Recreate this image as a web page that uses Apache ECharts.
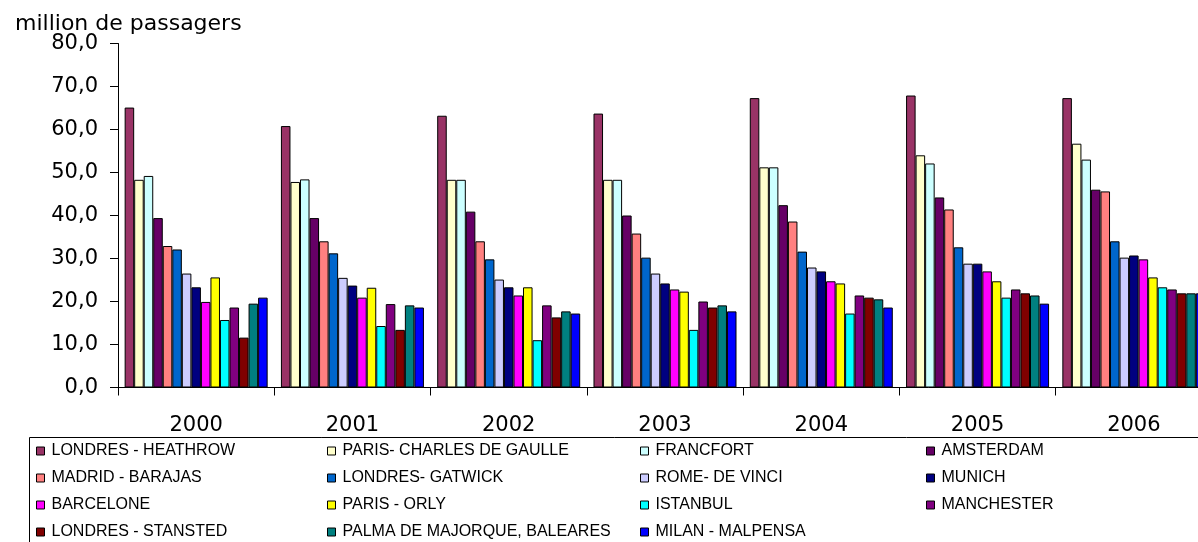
<!DOCTYPE html>
<html>
<head>
<meta charset="utf-8">
<script src="https://cdn.jsdelivr.net/npm/echarts@6/dist/echarts.min.js"></script>
<style>html,body{margin:0;padding:0;background:#fff;}#c{width:1198px;height:542px;}</style>
</head>
<body>
<div id="c"></div>
<script>
var years = ['2000','2001','2002','2003','2004','2005','2006'];
var yTicks = [0,10,20,30,40,50,60,70,80];
var airports = ['LONDRES - HEATHROW','PARIS- CHARLES DE GAULLE','FRANCFORT','AMSTERDAM',
  'MADRID - BARAJAS','LONDRES- GATWICK','ROME- DE VINCI','MUNICH',
  'BARCELONE','PARIS - ORLY','ISTANBUL','MANCHESTER',
  'LONDRES - STANSTED','PALMA DE MAJORQUE, BALEARES','MILAN - MALPENSA'];
var colors = ['#993366','#FFFFCC','#CCFFFF','#660066','#FF8080','#0066CC','#CCCCFF','#000080',
  '#FF00FF','#FFFF00','#00FFFF','#800080','#800000','#008080','#0000FF'];

var heathrow  = [65.1, 60.8, 63.2, 63.7, 67.3, 67.9, 67.3];
var cdg       = [48.3, 47.8, 48.3, 48.3, 51.2, 54.0, 56.7];
var francfort = [49.2, 48.4, 48.3, 48.3, 51.2, 52.1, 53.0];
var amsterdam = [39.4, 39.4, 40.9, 40.0, 42.4, 44.2, 46.0];
var madrid    = [32.9, 34.0, 34.0, 35.8, 38.6, 41.4, 45.6];
var gatwick   = [32.1, 31.2, 29.8, 30.2, 31.6, 32.6, 34.0];
var rome      = [26.5, 25.5, 25.1, 26.5, 27.9, 28.8, 30.2];
var munich    = [23.3, 23.7, 23.3, 24.2, 27.0, 28.8, 30.7];
var barcelone = [19.9, 20.9, 21.4, 22.8, 24.7, 27.0, 29.8];
var orly      = [25.6, 23.2, 23.3, 22.3, 24.2, 24.7, 25.6];
var istanbul  = [15.7, 14.3, 11.0, 13.4, 17.2, 20.9, 23.3];
var manchester= [18.6, 19.4, 19.1, 20.0, 21.4, 22.8, 22.8];
var stansted  = [11.6, 13.4, 16.3, 18.6, 20.9, 21.9, 21.9];
var palma     = [19.5, 19.1, 17.7, 19.1, 20.5, 21.4, 21.9];
var malpensa  = [20.9, 18.6, 17.2, 17.7, 18.6, 19.5, 21.9];

var values = [heathrow, cdg, francfort, amsterdam, madrid, gatwick, rome, munich,
  barcelone, orly, istanbul, manchester, stansted, palma, malpensa];

var BIG = 'DejaVu Sans, sans-serif';
var SMALL = 'Liberation Sans, Arial, sans-serif';

var series = airports.map(function(name, i){
  return {
    name: name, type: 'bar', data: values[i],
    barGap: '0%', barCategoryGap: '8.5%',
    itemStyle: {color: colors[i], borderColor: '#000', borderWidth: 1},
    emphasis: {disabled: true}
  };
});

var legendCols = [[0,4,8,12],[1,5,9,13],[2,6,10,14],[3,7,11]];
var legendLeft = [36, 327, 640, 926];
var legends = legendCols.map(function(col, k){
  return {
    orient: 'vertical', left: legendLeft[k], top: 443,
    data: col.map(function(i){ return airports[i]; }),
    icon: 'rect', itemWidth: 8, itemHeight: 8, itemGap: 11,
    itemStyle: {borderColor: '#000', borderWidth: 1},
    selectedMode: false,
    textStyle: {color: '#000', fontSize: 16, lineHeight: 16, fontFamily: SMALL, padding: [0,0,0,2]},
    padding: 0
  };
});

var chart = echarts.init(document.getElementById('c'), null, {renderer: 'canvas'});
chart.setOption({
  animation: false,
  backgroundColor: '#fff',
  color: colors,
  textStyle: {fontFamily: SMALL},
  title: {text: 'million de passagers', left: 10, top: 8,
    textStyle: {fontSize: 22, fontWeight: 'normal', color: '#000', fontFamily: BIG}},
  grid: {left: 118, top: 43.5, width: 1094, height: 344, containLabel: false, outerBoundsMode: 'none'},
  legend: legends,
  graphic: [{type: 'rect', shape: {x: 29.5, y: 437.5, width: 1200, height: 120},
    style: {fill: 'none', stroke: '#000', lineWidth: 1}, silent: true}],
  xAxis: {
    type: 'category', data: years,
    axisLine: {lineStyle: {color: '#000', width: 1}},
    axisTick: {show: true, length: 8, inside: false, lineStyle: {color: '#000'}},
    axisLabel: {color: '#000', fontSize: 21, margin: 28, fontFamily: BIG}
  },
  yAxis: {
    type: 'value', min: 0, max: 80, interval: 10,
    axisLine: {show: true, lineStyle: {color: '#000', width: 1}},
    axisTick: {show: true, length: 8, lineStyle: {color: '#000'}},
    splitLine: {show: false},
    axisLabel: {color: '#000', fontSize: 21, margin: 20, fontFamily: BIG,
      formatter: function(v){ return v.toFixed(1).replace('.', ','); }}
  },
  series: series
});
</script>
</body>
</html>
